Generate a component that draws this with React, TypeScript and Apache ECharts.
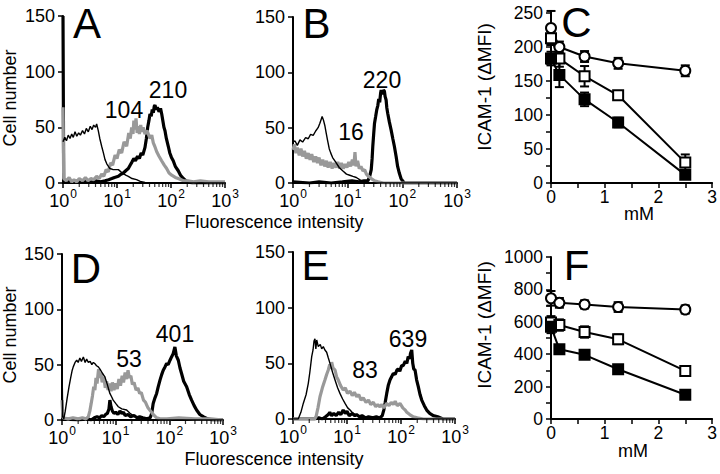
import { useEffect, useRef } from "react";
import * as echarts from "echarts";

const FONT = '"Liberation Sans", Arial, Helvetica, sans-serif';

// ---------- Flow-cytometry histograms: [fluorescence intensity, cell number] ----------
const aControl: [number, number][] = [[1,37],[1.08,41],[1.16,38],[1.25,43],[1.35,40],[1.45,44],[1.55,41],[1.67,46],[1.8,42],[1.95,45],[2.1,43],[2.3,47],[2.5,44],[2.7,49],[2.94,46],[3.2,51],[3.45,48],[3.7,52],[4.0,50],[4.2,53],[4.5,47],[4.8,40],[5.2,33],[5.6,27],[6.0,21],[6.5,17],[7.4,13],[8.5,12],[10.6,12],[12.5,9],[14.5,7],[16.2,6],[19,4],[23,3],[27,1.5],[33,0.5],[40,0],[1000,0]];
const aTreated: [number, number][] = [[1,68],[1.03,4],[1.15,2],[1.3,5],[1.45,1],[1.6,3],[1.8,1],[2.0,4],[2.3,2],[2.6,5],[2.9,2],[3.3,4],[3.7,3],[4.2,6],[4.7,4],[5.2,8],[5.7,6],[6.3,12],[6.9,10],[7.6,18],[8.3,16],[9.2,25],[10,22],[11,30],[12.2,27],[13.5,37],[15.1,33],[16.5,45],[17.6,40],[18.7,50],[19.8,44],[20.5,56],[21.5,48],[22.5,58],[23.6,45],[24.8,51],[26,44],[27.5,52],[28.7,46],[30.5,50],[33,44],[36,47],[40.8,40],[44,43],[47,36],[50,33],[54.4,28],[60,24],[67,20],[75,16],[83,13],[92,9],[103,7],[120,5],[136,4],[170,2],[206,2],[260,1],[350,2],[500,1],[700,1],[1000,1]];
const aUntreated: [number, number][] = [[1,150],[1.03,2],[1.5,1],[2,2],[3,1],[4,2],[5,1],[6,2],[7,3],[8,4],[9,5],[10.6,6],[12,8],[13.1,9],[14.5,11],[16.2,13],[17.5,16],[19,19],[20.5,22],[22,20],[24,24],[26,22],[28,27],[30,25],[33,32],[35,40],[37,50],[39,56],[40.8,62],[43,60],[45,66],[47,63],[49,69],[50.6,70],[53,66],[56,68],[60,64],[64,67],[67.3,62],[70,57],[74,50],[77.4,47],[82,40],[89,33],[95,27],[102,23],[110,20],[120,15],[136,11],[150,7],[169,4],[188,2],[206,1],[250,0],[1000,0]];

const bControl: [number, number][] = [[1,37],[1.09,38],[1.2,34],[1.34,39],[1.5,37],[1.7,41],[1.9,40],[2.1,44],[2.34,43],[2.6,47],[2.88,50],[3.1,54],[3.25,57],[3.41,60],[3.6,57],[3.82,52],[4.05,45],[4.27,39],[4.6,31],[4.91,27],[5.3,23],[6,19],[7,14],[8.1,11],[9.5,8],[10.9,7],[12.5,6],[14.4,5],[16.5,3],[18.7,1],[22,0],[1000,0]];
const bTreated: [number, number][] = [[1,30],[1.06,35],[1.13,27],[1.2,32],[1.3,25],[1.4,31],[1.5,24],[1.62,29],[1.75,22],[1.9,27],[2.05,21],[2.2,26],[2.4,19],[2.6,24],[2.8,18],[3.0,23],[3.25,16],[3.5,21],[3.8,15],[4.1,20],[4.4,14],[4.8,19],[5.2,13],[5.6,18],[6.1,14],[6.6,19],[7.1,13],[7.7,18],[8.3,13],[9,17],[9.7,14],[10.5,19],[11.3,15],[12.2,21],[13,16],[13.6,28],[14.2,15],[15.2,20],[16.3,13],[17.5,15],[19,11],[20.5,12],[22,8],[24,6],[27,4],[31,2],[36,1],[45,0],[1000,0]];
const bUntreated: [number, number][] = [[1,1],[2,0],[3,1],[5,0],[8,1],[12,2],[16,1],[20,2],[23.4,2],[25,5],[27,12],[28,22],[28.8,33],[30,45],[31,54],[32.5,60],[34,66],[35.6,70],[37,76],[38.5,73],[40,81],[41,84],[43,80],[45,84],[47,83],[48.5,78],[50.5,75],[52,68],[54,63],[58,55],[62.3,48],[67,40],[71.6,33],[77,24],[82,15],[88,9],[94.6,4],[101,2],[109,0],[1000,0]];

const dControl: [number, number][] = [[1,54],[1.03,3],[1.08,1],[1.15,8],[1.25,20],[1.35,30],[1.45,38],[1.55,45],[1.62,48],[1.75,52],[1.88,54],[2.0,52],[2.15,56],[2.3,53],[2.5,57],[2.7,52],[2.88,55],[3.1,52],[3.35,53],[3.6,50],[3.83,52],[4.1,51],[4.4,49],[4.75,48],[5.1,46],[5.7,42],[6.3,39],[7,32],[7.8,24],[8.4,21],[9.0,18],[10,15],[11.2,12],[13,10],[16,9],[18.5,6],[21.3,4],[26,2],[32,0],[1000,0]];
const dTreated: [number, number][] = [[1,18],[1.04,2],[1.3,1],[1.6,2],[2,1],[2.4,2],[2.8,1],[3.1,3],[3.3,8],[3.5,15],[3.7,22],[3.9,30],[4.1,27],[4.3,38],[4.5,33],[4.8,46],[5.0,38],[5.3,43],[5.6,34],[6,39],[6.4,29],[6.8,35],[7.2,27],[7.7,33],[8.2,26],[8.7,34],[9.3,27],[10,33],[10.7,28],[11.5,37],[12.3,31],[13.2,40],[14,34],[15,43],[16,37],[17,45],[18,38],[19.2,40],[20.5,32],[22,34],[24,27],[26,29],[28,24],[30,25],[33,18],[36,16],[40,11],[45,8],[50,5],[58,2],[67,1],[90,1],[150,2],[300,1],[600,1],[1000,0]];
const dUntreated: [number, number][] = [[1,1],[2,0],[3,1],[3.5,0],[4,2],[4.5,3],[5,2],[5.5,4],[6,3],[6.5,5],[7,6],[7.5,10],[7.8,18],[8.2,12],[8.7,8],[9.3,6],[10,7],[11,5],[12,8],[13,6],[14,7],[15,4],[17,5],[19,3],[22,4],[25,2],[28,3],[32,2],[38,1],[44,2],[47,6],[50,15],[54,20],[58,24],[62,30],[67,36],[72,41],[77,45],[83,48],[89,51],[95,50],[103,54],[110,57],[118,60],[127,66],[135,58],[147,54],[158,47],[169,42],[185,35],[210,30],[235,23],[260,18],[290,13],[322,9],[370,5],[428,3],[520,1],[650,0],[1000,0]];

const eControl: [number, number][] = [[1,0],[1.25,0],[1.4,6],[1.55,14],[1.75,22],[1.92,32],[2.05,42],[2.22,56],[2.35,62],[2.45,70],[2.55,72],[2.65,63],[2.75,71],[2.94,65],[3.2,67],[3.4,63],[3.64,65],[3.9,62],[4.2,60],[4.5,55],[4.84,50],[5.4,42],[6.0,35],[6.7,28],[7.4,23],[8.3,18],[9.2,14],[10.3,10],[11.4,8],[13,5],[15.1,3],[17.5,2],[19.8,1],[25,0],[1000,0]];
const eTreated: [number, number][] = [[1,0],[2.5,0],[2.67,2],[2.9,10],[3.16,20],[3.5,28],[3.9,35],[4.2,40],[4.5,44],[4.8,49],[5.0,45],[5.2,51],[5.5,46],[6.0,44],[6.4,38],[6.9,35],[7.6,30],[8.5,26],[9.3,28],[10.2,23],[11.4,25],[12.5,21],[13.7,24],[15.1,20],[16.5,22],[18.2,17],[20,19],[22.5,15],[25,17],[27.5,13],[30.7,15],[34,11],[37,13],[40.8,11],[44,13],[48,10],[54.4,14],[60,12],[66,15],[72,13],[78,16],[85,12],[95.8,14],[108,10],[120,8],[128,6],[145,4],[169,2],[200,1],[260,0],[1000,0]];
const eUntreated: [number, number][] = [[1,0],[2.5,0],[3,1],[3.5,0],[4,2],[4.5,4],[4.8,6],[5.2,3],[5.7,5],[6.3,3],[7,6],[7.7,4],[8.5,8],[9.3,5],[10,7],[11,3],[12.5,5],[14,3],[15,4],[17,2],[19,3],[22,1],[25,2],[30,1],[35,2],[40,1],[45,3],[48,8],[51,15],[54.4,23],[58,30],[62.5,35],[67,38],[72,41],[78,40],[84,44],[89,45],[95,43],[103,48],[110,48],[120,52],[128,50],[136,56],[145,54],[150,59],[158,62],[165,50],[172,45],[182,44],[195,35],[209,29],[225,22],[242,17],[270,12],[299,8],[340,5],[396,3],[480,2],[600,0],[1000,0]];

// MFI annotations per histogram panel
const mfiA = ["210", "104"];
const mfiB = ["220", "16"];
const mfiD = ["401", "53"];
const mfiE = ["639", "83"];

// minor tick values of the log axes (2..9 of each decade)
const logMinorTicks = [2,3,4,5,6,7,8,9,20,30,40,50,60,70,80,90,200,300,400,500,600,700,800,900];

// ---------- Dose response (mM vs ICAM-1 ΔMFI) ----------
const doseMM = [0, 0.156, 0.625, 1.25, 2.5];
const cCircle = [228, 200, 186, 176, 165];
const cCircleErr = [25, 8, 8, 8, 8];
const cOpenSq = [213, 183, 157, 129, 30];
const cOpenSqErr = [10, 12, 15, 6, 12];
const cFilledSq = [183, 159, 123, 89, 12];
const cFilledSqErr = [10, 18, 10, 7, 4];

const fCircle = [745, 717, 707, 691, 676];
const fCircleErr = [45, 30, 25, 30, 25];
const fOpenSq = [595, 580, 537, 492, 297];
const fOpenSqErr = [40, 35, 35, 30, 10];
const fFilledSq = [570, 430, 396, 307, 150];
const fFilledSqErr = [40, 15, 12, 15, 8];

const histTicks = [0, 50, 100, 150];

export default function App() {
  const ref = useRef<HTMLDivElement>(null);

  useEffect(() => {
    if (!ref.current) return;
    const chart = echarts.init(ref.current, null, { renderer: "svg" });

    const grids = [
      { left: 63, top: 16, width: 162, height: 167 },
      { left: 293, top: 17, width: 164, height: 166 },
      { left: 551, top: 13, width: 164, height: 170 },
      { left: 62, top: 254, width: 161, height: 166 },
      { left: 293, top: 252, width: 162, height: 167 },
      { left: 551, top: 257, width: 164, height: 162 },
    ];

    const axisLine = { show: true, onZero: false, lineStyle: { color: "#000", width: 2 } };
    const axisTick = { show: true, length: 5, lineStyle: { color: "#000", width: 1.5 } };

    const logX = (gi: number) => ({
      type: "log",
      logBase: 10,
      min: 1,
      max: 1000,
      gridIndex: gi,
      axisLine,
      axisTick,
      splitLine: { show: false },
      axisLabel: {
        margin: 5,
        formatter: (v: number) => `{b|10}{s|${Math.round(Math.log10(v))}}`,
        rich: {
          b: { fontSize: 18, fontFamily: FONT, color: "#000", lineHeight: 22, verticalAlign: "bottom" },
          s: { fontSize: 12, fontFamily: FONT, color: "#000", verticalAlign: "top", padding: [0, 0, 0, 1] },
        },
      },
    });
    const histY = (gi: number) => ({
      type: "value",
      min: histTicks[0],
      max: histTicks[histTicks.length - 1],
      interval: 50,
      gridIndex: gi,
      axisLine,
      axisTick,
      splitLine: { show: false },
      axisLabel: { margin: 8, fontSize: 18, fontFamily: FONT, color: "#000" },
    });
    const doseX = (gi: number) => ({
      type: "value",
      min: 0,
      max: 3,
      interval: 0.5,
      gridIndex: gi,
      axisLine,
      axisTick,
      splitLine: { show: false },
      axisLabel: {
        margin: 5,
        fontSize: 17.5,
        fontFamily: FONT,
        color: "#000",
        formatter: (v: number) => (Math.abs(v - Math.round(v)) < 1e-6 ? String(Math.round(v)) : ""),
      },
    });
    const doseY = (gi: number, max: number, step: number, labelStep: number) => ({
      type: "value",
      min: 0,
      max,
      interval: step,
      gridIndex: gi,
      axisLine,
      axisTick,
      splitLine: { show: false },
      axisLabel: {
        margin: 8,
        fontSize: 17.5,
        fontFamily: FONT,
        color: "#000",
        formatter: (v: number) => (v % labelStep === 0 ? String(v) : ""),
      },
    });

    const histSeries = (gi: number, control: [number, number][], treated: [number, number][], untreated: [number, number][]) => [
      { type: "line", xAxisIndex: gi, yAxisIndex: gi, data: untreated, symbol: "none", lineStyle: { color: "#000", width: 3.2 }, z: 2 },
      { type: "line", xAxisIndex: gi, yAxisIndex: gi, data: treated, symbol: "none", lineStyle: { color: "#999", width: 3.2 }, z: 3 },
      { type: "line", xAxisIndex: gi, yAxisIndex: gi, data: control, symbol: "none", lineStyle: { color: "#000", width: 1.4 }, z: 4 },
      {
        type: "scatter",
        xAxisIndex: gi,
        yAxisIndex: gi,
        silent: true,
        clip: false,
        z: 10,
        data: logMinorTicks.map((v) => [v, 0]),
        symbol: "rect",
        symbolSize: [1.2, 4],
        symbolOffset: [0, 2],
        itemStyle: { color: "#000" },
      },
    ];

    const errSeries = (gi: number, ys: number[], errs: number[]) => ({
      type: "custom",
      xAxisIndex: gi,
      yAxisIndex: gi,
      silent: true,
      z: 5,
      clip: false,
      data: doseMM.map((x, i) => [x, ys[i] - errs[i], ys[i] + errs[i]]),
      encode: { x: 0, y: [1, 2] },
      renderItem: (_p: any, api: any) => {
        const x = api.value(0);
        const top = api.coord([x, api.value(2)]);
        const bot = api.coord([x, api.value(1)]);
        const w = 4.5;
        const st = { stroke: "#000", lineWidth: 2 };
        return {
          type: "group",
          children: [
            { type: "line", shape: { x1: top[0], y1: top[1], x2: bot[0], y2: bot[1] }, style: st },
            { type: "line", shape: { x1: top[0] - w, y1: top[1], x2: top[0] + w, y2: top[1] }, style: st },
            { type: "line", shape: { x1: bot[0] - w, y1: bot[1], x2: bot[0] + w, y2: bot[1] }, style: st },
          ],
        };
      },
    });

    const doseSeries = (gi: number, ys: number[], symbol: string, fill: string) => ({
      type: "line",
      xAxisIndex: gi,
      yAxisIndex: gi,
      clip: false,
      z: 6,
      data: doseMM.map((x, i) => [x, ys[i]]),
      symbol,
      symbolSize: 10,
      showSymbol: true,
      lineStyle: { color: "#000", width: 2 },
      itemStyle: { color: fill, borderColor: "#000", borderWidth: 2 },
    });

    const txt = (text: string, x: number, y: number, size: number, rot = 0) => ({
      type: "text",
      x,
      y,
      rotation: rot,
      z: 100,
      style: {
        text,
        font: `${size}px ${FONT}`,
        fill: "#000",
        textAlign: "center",
        textVerticalAlign: "middle",
      },
    });

    chart.setOption({
      animation: false,
      backgroundColor: "#fff",
      grid: grids,
      xAxis: [logX(0), logX(1), doseX(2), logX(3), logX(4), doseX(5)],
      yAxis: [histY(0), histY(1), doseY(2, 250, 25, 50), histY(3), histY(4), doseY(5, 1000, 100, 200)],
      series: [
        ...histSeries(0, aControl, aTreated, aUntreated),
        ...histSeries(1, bControl, bTreated, bUntreated),
        ...histSeries(3, dControl, dTreated, dUntreated),
        ...histSeries(4, eControl, eTreated, eUntreated),
        errSeries(2, cCircle, cCircleErr),
        errSeries(2, cOpenSq, cOpenSqErr),
        errSeries(2, cFilledSq, cFilledSqErr),
        doseSeries(2, cCircle, "circle", "#fff"),
        doseSeries(2, cOpenSq, "rect", "#fff"),
        doseSeries(2, cFilledSq, "rect", "#000"),
        errSeries(5, fCircle, fCircleErr),
        errSeries(5, fOpenSq, fOpenSqErr),
        errSeries(5, fFilledSq, fFilledSqErr),
        doseSeries(5, fCircle, "circle", "#fff"),
        doseSeries(5, fOpenSq, "rect", "#fff"),
        doseSeries(5, fFilledSq, "rect", "#000"),
      ],
      graphic: [
        txt("A", 87, 23, 42),
        txt("B", 316.5, 23, 42),
        txt("C", 576.5, 22, 42),
        txt("D", 86, 268.5, 42),
        txt("E", 315.5, 265.5, 42),
        txt("F", 576.5, 265.5, 42),
        txt(mfiA[0], 168, 90, 23),
        txt(mfiA[1], 124, 110, 23),
        txt(mfiB[0], 382, 80, 23),
        txt(mfiB[1], 351, 132, 23),
        txt(mfiD[0], 175, 334, 23),
        txt(mfiD[1], 129, 359, 23),
        txt(mfiE[0], 408, 339, 23),
        txt(mfiE[1], 365, 370, 23),
        txt("Cell number", 10, 98, 18, Math.PI / 2),
        txt("Cell number", 10, 335, 18, Math.PI / 2),
        txt("Fluorescence intensity", 274, 222, 18),
        txt("Fluorescence intensity", 274, 459, 18),
        txt("ICAM-1 (ΔMFI)", 484, 87, 19, Math.PI / 2),
        txt("ICAM-1 (ΔMFI)", 484, 325, 19, Math.PI / 2),
        txt("mM", 639, 214, 18),
        txt("mM", 633, 451, 18),
      ],
    });

    return () => chart.dispose();
  }, []);

  return <div ref={ref} style={{ position: "fixed", left: 0, top: 0, width: 720, height: 474, background: "#fff" }} />;
}
